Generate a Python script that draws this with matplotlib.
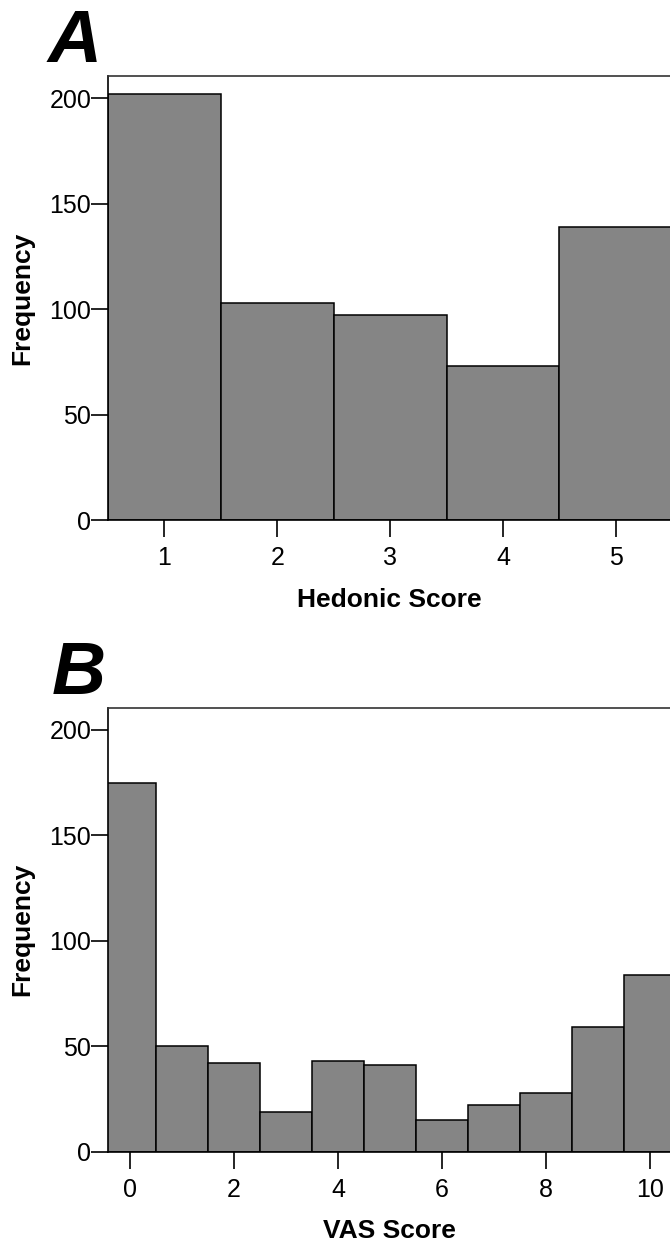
import matplotlib.pyplot as plt

# panel A data
hedonic_scores = [1, 2, 3, 4, 5]
hedonic_freq = [202, 103, 97, 73, 139]

# panel B data
vas_scores = [0, 1, 2, 3, 4, 5, 6, 7, 8, 9, 10]
vas_freq = [175, 50, 42, 19, 43, 41, 15, 22, 28, 59, 84]

y_ticks = [0, 50, 100, 150, 200]

plt.rcParams['font.family'] = ['Liberation Sans', 'DejaVu Sans']

fig = plt.figure(figsize=(6.7, 12.41), dpi=100)

bar_color = '#858585'


def style_axes(ax):
    ax.spines['right'].set_visible(False)
    for s in ['left', 'bottom', 'top']:
        ax.spines[s].set_linewidth(1.2)
        ax.spines[s].set_color('black')
    ax.spines['top'].set_color('#333333')
    ax.tick_params(axis='both', direction='out', length=12, width=1.2,
                   labelsize=18, color='black')
    ax.tick_params(axis='y', pad=0)
    ax.tick_params(axis='x', pad=7)
    ax.set_yticks(y_ticks)
    ax.set_ylim(0, 210.5)


# Panel A
axA = fig.add_axes([108 / 670, 1 - 520 / 1241, 1 - 108 / 670, 444 / 1241])
axA.bar(hedonic_scores, hedonic_freq, width=1.0, color=bar_color,
        edgecolor='black', linewidth=1.1)
axA.set_xlim(0.5, 5.48)
axA.set_xticks(hedonic_scores)
style_axes(axA)
axA.set_xlabel('Hedonic Score', fontsize=19, fontweight='bold')
axA.set_ylabel('Frequency', fontsize=19, fontweight='bold')

# Panel B
axB = fig.add_axes([108 / 670, 1 - 1151.7 / 1241, 1 - 108 / 670, 444 / 1241])
axB.bar(vas_scores, vas_freq, width=1.0, color=bar_color,
        edgecolor='black', linewidth=1.1)
axB.set_xlim(-0.42, 10.385)
axB.set_xticks([0, 2, 4, 6, 8, 10])
style_axes(axB)
axB.set_xlabel('VAS Score', fontsize=19, fontweight='bold')
axB.set_ylabel('Frequency', fontsize=19, fontweight='bold')

for ax in [axA, axB]:
    ax.xaxis.set_label_coords(0.5, -0.195)
    ax.xaxis.label.set_verticalalignment('baseline')
    ax.yaxis.set_label_coords(-0.153, 0.5)
    ax.yaxis.label.set_verticalalignment('center')

# panel letters
fig.text(48 / 670, 1 - 62 / 1241, 'A', fontsize=54, fontweight='bold',
         fontstyle='italic', ha='left', va='baseline')
fig.text(52 / 670, 1 - 694 / 1241, 'B', fontsize=54, fontweight='bold',
         fontstyle='italic', ha='left', va='baseline')

fig.savefig('out.png', dpi=100)
